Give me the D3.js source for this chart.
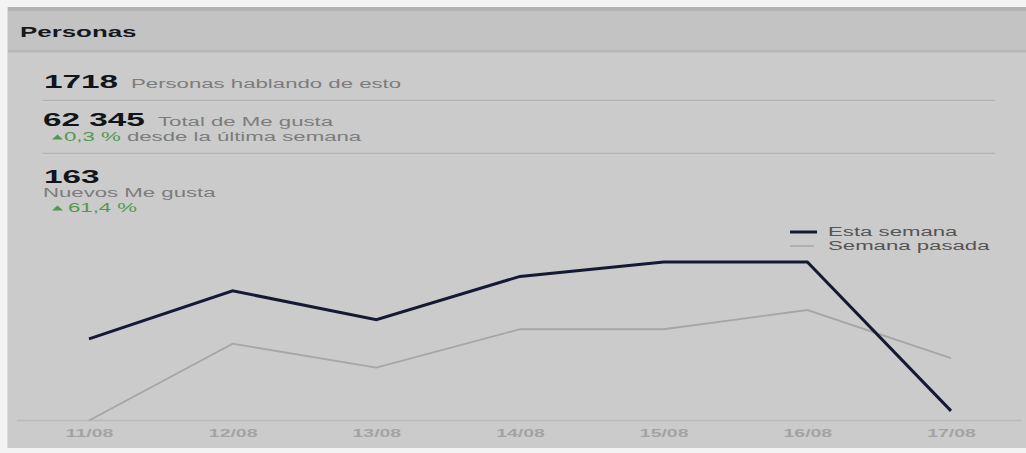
<!DOCTYPE html>
<html>
<head>
<meta charset="utf-8">
<script src="https://cdn.jsdelivr.net/npm/d3@7"></script>
<style>
  html, body { margin: 0; padding: 0; background: #f3f3f4; }
  svg { display: block; }
  text { font-family: "Liberation Sans", Arial, sans-serif; }
</style>
</head>
<body>
<svg id="chart" width="1026" height="453"></svg>
<script>
// Daily new likes for the current and previous week
const dates = ["11/08", "12/08", "13/08", "14/08", "15/08", "16/08", "17/08"];
const estaSemana = [17, 27, 21, 30, 33, 33, 2];
const semanaPasada = [0, 16, 11, 19, 19, 23, 13];
const seriesNames = ["Esta semana", "Semana pasada"];

// Summary figures shown above the chart
const personasHablando = "1718";
const totalMeGusta = "62 345";
const cambioTotal = "0,3 %";
const nuevosMeGusta = "163";
const cambioNuevos = "61,4 %";

const W = 1026, H = 453;
const SX = 1.85; // horizontal stretch of the dashboard typography

const svg = d3.select("#chart");

// Panel background, header band and borders
svg.append("rect").attr("x", 8).attr("y", 7).attr("width", W - 8).attr("height", 441).attr("fill", "#cbcbcb");
svg.append("rect").attr("x", 8).attr("y", 7).attr("width", W - 8).attr("height", 45).attr("fill", "#c3c3c3");
svg.append("rect").attr("x", 8).attr("y", 7).attr("width", W - 8).attr("height", 4).attr("fill", "#b3b3b3");
svg.append("rect").attr("x", 8).attr("y", 50).attr("width", W - 8).attr("height", 2.5).attr("fill", "#b7b7b7");
svg.append("rect").attr("x", 7).attr("y", 7).attr("width", 1).attr("height", 441).attr("fill", "#dcdcdc");

// Stretched text helper
function label(x, y, parts, size, weight) {
  const t = svg.append("text")
    .attr("transform", `translate(${x},${y}) scale(${SX},1)`)
    .attr("font-size", size)
    .attr("font-weight", weight || "normal");
  parts.forEach(p => {
    const s = t.append("tspan").text(p.text).attr("fill", p.fill);
    if (p.size) s.attr("font-size", p.size);
    if (p.weight) s.attr("font-weight", p.weight);
  });
  return t;
}

// Small green "up" marker drawn in front of a change figure
function upMarker(x, y) {
  svg.append("path")
    .attr("d", d3.line()([[x, y], [x + 5.5, y - 5], [x + 11, y]]) + "Z")
    .attr("fill", green);
}

const dark = "#111418", grey = "#7c7c7c", green = "#4f9a4f";

label(20, 37, [{ text: "Personas", fill: "#15181c" }], 14, "bold");

label(44, 88, [{ text: personasHablando, fill: dark }], 18, "bold");
label(131, 88, [{ text: "Personas hablando de esto", fill: grey }], 12);

label(43, 126, [{ text: totalMeGusta, fill: dark }], 18, "bold");
label(158, 126, [{ text: "Total de Me gusta", fill: grey }], 12);
upMarker(52, 139.5);
label(64, 141, [
  { text: cambioTotal, fill: green },
  { text: " desde la última semana", fill: grey }
], 12);

label(44, 183, [{ text: nuevosMeGusta, fill: dark }], 18, "bold");
label(43, 197, [{ text: "Nuevos Me gusta", fill: grey }], 12);
upMarker(52, 210.5);
label(68, 212, [{ text: cambioNuevos, fill: green }], 12);

// Separators between summary rows
[100.5, 153.5].forEach(y => {
  svg.append("line").attr("x1", 42).attr("x2", 995).attr("y1", y).attr("y2", y)
    .attr("stroke", "#b4b4b4").attr("stroke-width", 1.5);
  svg.append("line").attr("x1", 42).attr("x2", 995).attr("y1", y + 1.5).attr("y2", y + 1.5)
    .attr("stroke", "#d2d2d2").attr("stroke-width", 1);
});

// Scales
const x = d3.scalePoint().domain(dates).range([89, 951]);
const y = d3.scaleLinear().domain([0, 33]).range([420.5, 262]);

// X axis: baseline and date labels
const axis = d3.axisBottom(x).tickSize(0).tickPadding(9);
const gx = svg.append("g").attr("transform", "translate(0,420.5)").call(axis);
gx.select(".domain").remove();
svg.append("line").attr("x1", 17).attr("x2", 1022).attr("y1", 420.5).attr("y2", 420.5)
  .attr("stroke", "#b9b9b9").attr("stroke-width", 1.5);
gx.selectAll(".tick text")
  .attr("font-family", "Liberation Sans, Arial, sans-serif")
  .attr("font-size", 10.5)
  .attr("font-weight", "bold")
  .attr("fill", "#a3a3a3")
  .attr("transform", `scale(${SX},1)`)
  .attr("text-anchor", "middle");

const line = d3.line().x((d, i) => x(dates[i])).y(d => y(d));

svg.append("path").datum(semanaPasada).attr("d", line)
  .attr("fill", "none").attr("stroke", "#a6a6a6").attr("stroke-width", 1.8)
  .attr("stroke-linejoin", "miter");
svg.append("path").datum(estaSemana).attr("d", line)
  .attr("fill", "none").attr("stroke", "#141a34").attr("stroke-width", 3)
  .attr("stroke-linejoin", "miter");

// Legend
const legendItems = [
  { name: seriesNames[0], color: "#141a34", w: 3, len: 27, y: 232, ty: 236 },
  { name: seriesNames[1], color: "#a6a6a6", w: 1.5, len: 24, y: 246, ty: 249.5 }
];
legendItems.forEach(it => {
  svg.append("line").attr("x1", 790).attr("x2", 790 + it.len).attr("y1", it.y).attr("y2", it.y)
    .attr("stroke", it.color).attr("stroke-width", it.w);
  label(828, it.ty, [{ text: it.name, fill: "#555" }], 12);
});
</script>
</body>
</html>
